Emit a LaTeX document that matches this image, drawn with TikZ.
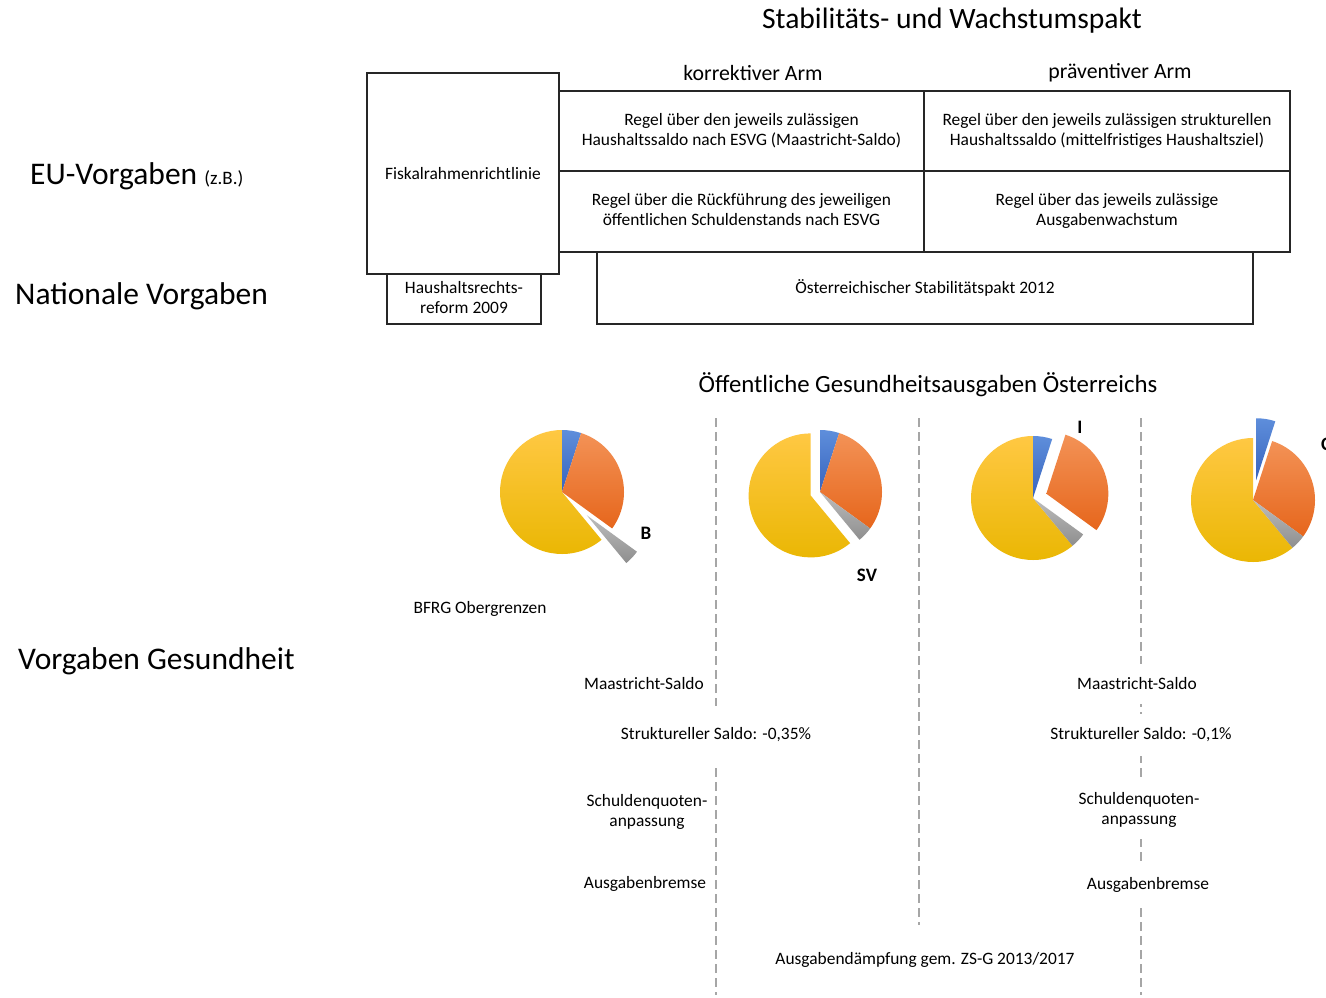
\documentclass[tikz,border=0pt]{standalone}
\usepackage{fontspec}
\setmainfont{Carlito}
\definecolor{dashgray}{HTML}{A6A6A6}
\definecolor{bluetop}{HTML}{5E8EDB}
\definecolor{bluebot}{HTML}{3864BE}
\definecolor{orgtop}{HTML}{F39256}
\definecolor{orgbot}{HTML}{E6661C}
\definecolor{graytop}{HTML}{BDBDBD}
\definecolor{graybot}{HTML}{8E8E8E}
\definecolor{yeltop}{HTML}{FFC843}
\definecolor{yelbot}{HTML}{E9B600}
\newcommand\pieslice[6]{%
  \pgfmathsetmacro\pmidang{(#1+#2)/2}%
  \shade[top color=#3,bottom color=#4,shift={(\pmidang:#5)}]
    (0,0) -- (#1:62) arc[start angle=#1,end angle=#2,radius=62] -- cycle;}
\newcommand\drawpie[4]{% explosions: blue, orange, gray, yellow
  \pieslice{-50.4}{-270}{yeltop}{yelbot}{#4}{}
  \pieslice{90}{72}{bluetop}{bluebot}{#1}{}
  \pieslice{72}{-36}{orgtop}{orgbot}{#2}{}
  \pieslice{-36}{-50.4}{graytop}{graybot}{#3}{}}
\tikzset{
  box/.style={draw=black!85,line width=1.1pt,inner sep=0pt,align=center,
    font=\fontsize{17.4}{20}\selectfont},
  small/.style={align=center,font=\fontsize{17.4}{20}\selectfont,inner sep=1pt},
  gaplabel/.style={small,fill=white,inner xsep=2pt,inner ysep=12pt},
  sidelabel/.style={anchor=west,inner sep=0pt,font=\fontsize{31.5}{36}\selectfont},
  armlabel/.style={font=\fontsize{21.8}{26}\selectfont,inner sep=0pt},
  pielabel/.style={font=\fontsize{19}{22}\selectfont\bfseries,inner sep=0pt},
  dashline/.style={draw=dashgray,line width=1.6pt,dash pattern=on 9pt off 5pt}
}
\begin{document}
\begin{tikzpicture}[x=1pt,y=-1pt]
\clip (0,0) rectangle (1326,997);
\fill[white] (0,0) rectangle (1326,997);

% headings
\node[font=\fontsize{29.6}{34}\selectfont,inner sep=0pt] (title) at (952,21) {Stabilitäts- und Wachstumspakt};
\node[armlabel] (korr) at (753,73) {korrektiver Arm};
\node[armlabel] (prae) at (1120,73) {präventiver Arm};

% side labels
\node[sidelabel] (eu) at (30,176) {EU-Vorgaben {\fontsize{19}{22}\selectfont(z.B.)}};
\node[sidelabel] (nat) at (15,296) {Nationale Vorgaben};
\node[sidelabel] (ges) at (18,661) {Vorgaben Gesundheit};

% boxes
\node[box,minimum width=192pt,minimum height=201pt] (fisk) at (463,173.5) {Fiskalrahmenrichtlinie};
\node[box,minimum width=365pt,minimum height=80pt] (c1) at (741.5,131) {\strut Regel über den jeweils zulässigen\\\strut Haushaltssaldo nach ESVG (Maastricht-Saldo)};
\node[box,minimum width=366pt,minimum height=80pt] (c2) at (1107,131) {\strut Regel über den jeweils zulässigen strukturellen\\\strut Haushaltssaldo (mittelfristiges Haushaltsziel)};
\node[box,minimum width=365pt,minimum height=81pt] (c3) at (741.5,211.5) {\strut Regel über die Rückführung des jeweiligen\\\strut öffentlichen Schuldenstands nach ESVG};
\node[box,minimum width=366pt,minimum height=81pt] (c4) at (1107,211.5) {\strut Regel über das jeweils zulässige\\\strut Ausgabenwachstum};
\node[box,minimum width=154pt,minimum height=50pt] (hhr) at (464,299) {\strut Haushaltsrechts-\\\strut reform 2009};
\node[box,minimum width=656pt,minimum height=72pt] (oesp) at (925,288) {Österreichischer Stabilitätspakt 2012};

% health section title
\node[font=\fontsize{24.8}{28}\selectfont,inner sep=0pt] (oeg) at (928,385) {Öffentliche Gesundheitsausgaben Österreichs};

% dashed separators
\coordinate (l1t) at (716,418); \coordinate (l1b) at (716,995);
\coordinate (l2t) at (919,418); \coordinate (l2b) at (919,925);
\coordinate (l3t) at (1141,418); \coordinate (l3b) at (1141,995);
\draw[dashline] (l1t) -- (l1b);
\draw[dashline] (l2t) -- (l2b);
\draw[dashline] (l3t) -- (l3b);

% pies
\begin{scope}[shift={(562,492)},yscale=-1]
  \drawpie{0}{0}{34}{0}
\end{scope}
\begin{scope}[shift={(820,492)},yscale=-1]
  \drawpie{0}{0}{0}{10}
\end{scope}
\begin{scope}[shift={(1033,498)},yscale=-1]
  \drawpie{0}{14}{0}{0}
\end{scope}
\begin{scope}[shift={(1253,500)},yscale=-1]
  \drawpie{20}{0}{0}{0}
\end{scope}
\node[pielabel] (lb) at (646,533) {B};
\node[pielabel] (lsv) at (867,575) {SV};
\node[pielabel] (li) at (1080,427) {I};
\node[pielabel,anchor=west] (lc) at (1321,444) {C};

% health labels
\node[small] (bfrg) at (480,609) {BFRG Obergrenzen};
\node[small] (ms1) at (644,684) {Maastricht-Saldo};
\node[gaplabel,inner ysep=22pt] (ss1) at (716,735) {Struktureller Saldo: -0,35\%};
\node[small] (sq1) at (647,812) {\strut Schuldenquoten-\\\strut anpassung};
\node[small] (ab1) at (645,884) {Ausgabenbremse};
\node[gaplabel,inner ysep=14pt] (ms2) at (1137,684) {Maastricht-Saldo};
\node[gaplabel,inner ysep=14pt] (ss2) at (1141,735) {Struktureller Saldo: -0,1\%};
\node[gaplabel,inner ysep=9pt] (sq2) at (1139,810) {\strut Schuldenquoten-\\\strut anpassung};
\node[gaplabel,inner ysep=14pt] (ab2) at (1148,885) {Ausgabenbremse};
\node[small] (adg) at (925,960) {Ausgabendämpfung gem. ZS-G 2013/2017};
\end{tikzpicture}
\end{document}
